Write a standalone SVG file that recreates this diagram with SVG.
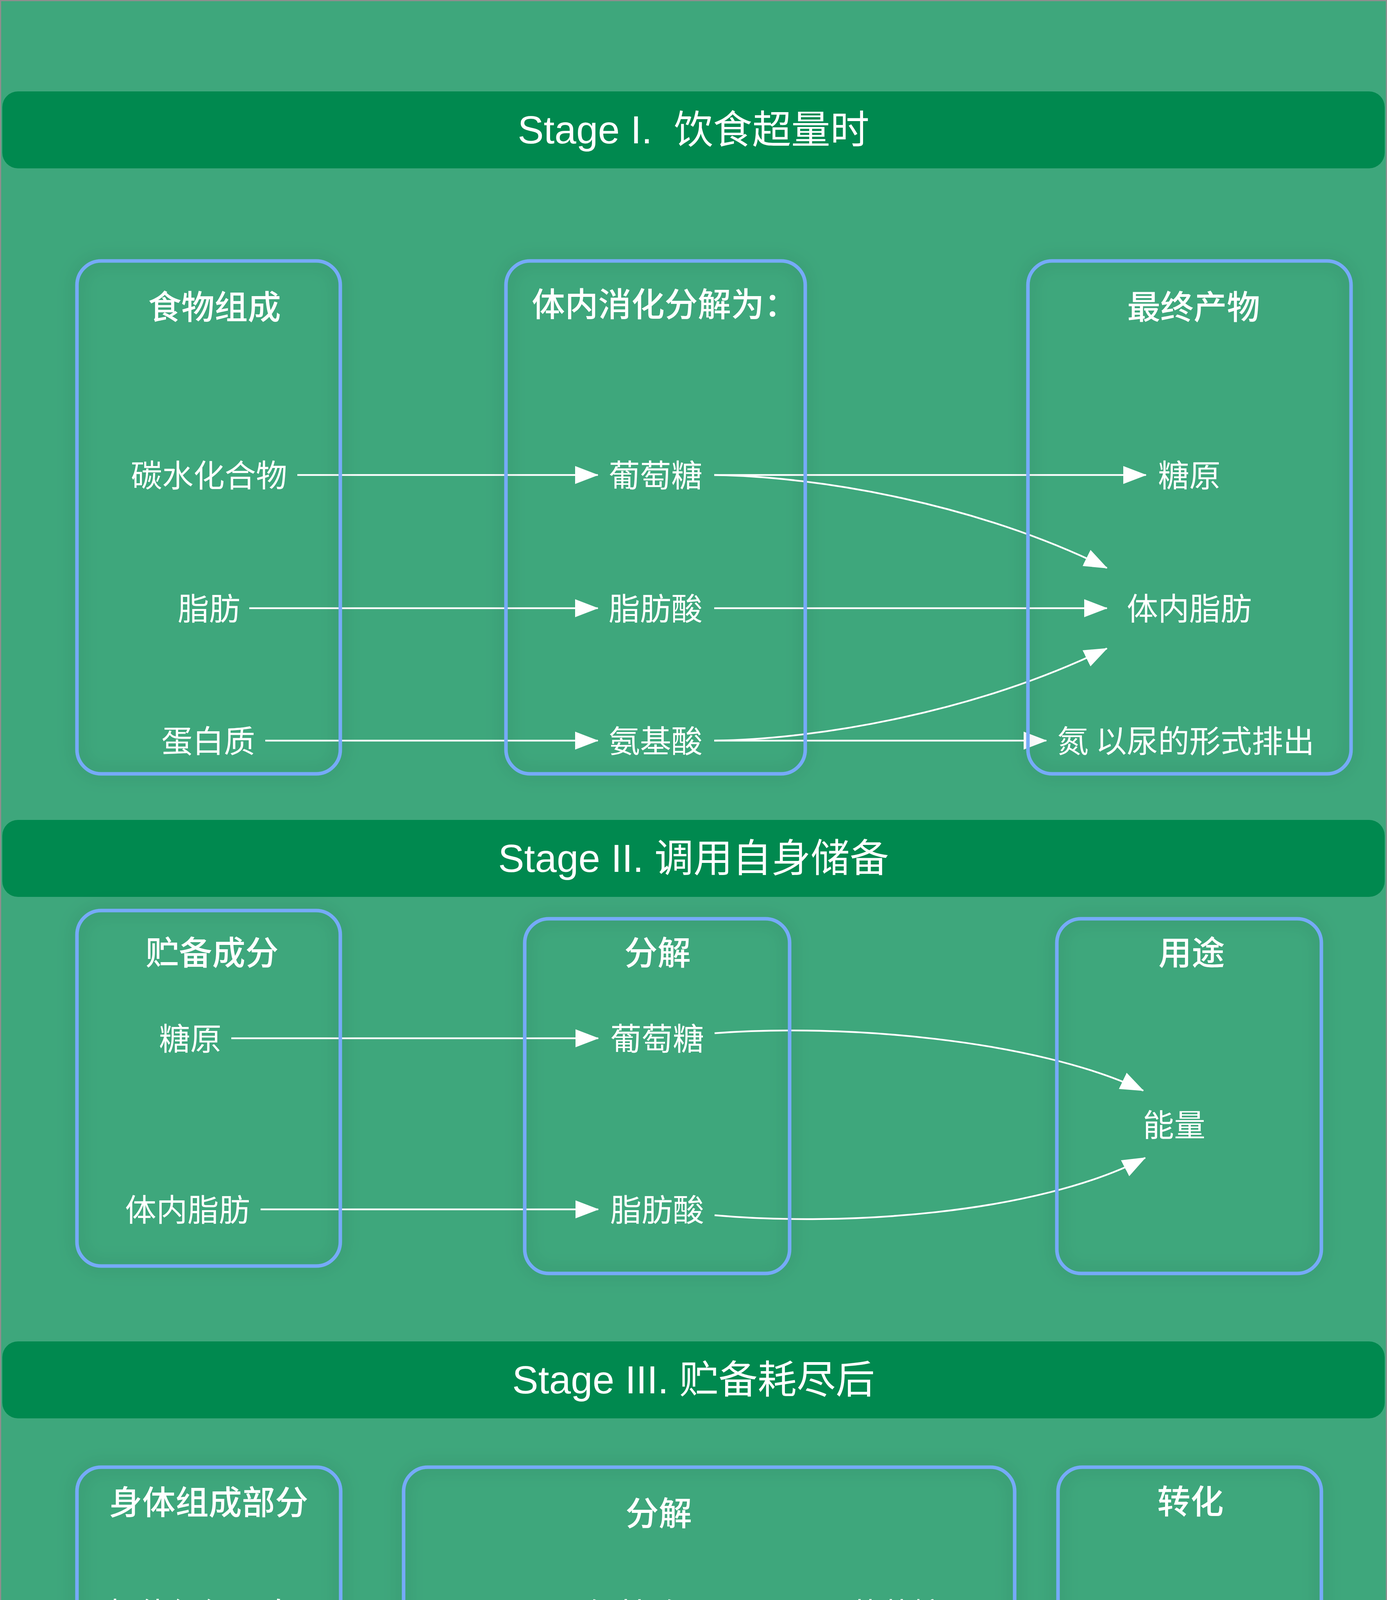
<svg xmlns="http://www.w3.org/2000/svg" width="3550" height="5156" viewBox="0 0 3550 5156">
<style>
.banner{fill:#00894f}
.btext{font-family:"Liberation Sans","Noto Sans CJK SC",sans-serif;font-size:100px;fill:#ffffff;text-anchor:middle;white-space:pre}
.box{fill:none;stroke:#76aaf8;stroke-width:9}
.title{font-family:"Noto Sans CJK SC","Noto Sans",sans-serif;font-size:85px;font-weight:500;fill:#ffffff;text-anchor:middle}
.lbl{font-family:"Noto Sans CJK SC","Noto Sans",sans-serif;font-size:80px;fill:#ffffff}
.end{text-anchor:end}
.conn path{fill:none;stroke:#ffffff;stroke-width:4.5;marker-end:url(#arr)}
</style>
<defs>
<marker id="arr" markerUnits="userSpaceOnUse" markerWidth="60" markerHeight="46" refX="58" refY="23" orient="auto">
<path d="M0,0 L60,23 L0,46 Z" fill="#ffffff"/>
</marker>
<filter id="glow" x="-20%" y="-20%" width="140%" height="140%">
<feGaussianBlur in="SourceAlpha" stdDeviation="22" result="b"/>
<feFlood flood-color="#000000" flood-opacity="0.22"/>
<feComposite in2="b" operator="in" result="s"/>
<feMerge><feMergeNode in="s"/><feMergeNode in="SourceGraphic"/></feMerge>
</filter>
</defs>
<rect x="1.5" y="1.5" width="3547" height="5153" fill="#3ea77c" stroke="#8e8e8e" stroke-width="3"/>

<g id="banner1"><rect class="banner" x="6" y="234" width="3538" height="197" rx="40"/><text class="btext" x="1775" y="367">Stage I.  饮食超量时</text></g>
<g id="banner2"><rect class="banner" x="6" y="2099" width="3538" height="197" rx="40"/><text class="btext" x="1775" y="2232">Stage II. 调用自身储备</text></g>
<g id="banner3"><rect class="banner" x="6" y="3434" width="3538" height="197" rx="40"/><text class="btext" x="1775" y="3567">Stage III. 贮备耗尽后</text></g>

<g id="connectors" class="conn">
<path d="M761,1216 H1530"/>
<path d="M1828,1216 H2933"/>
<path d="M1828,1216 C2100,1220 2500,1290 2833,1454"/>
<path d="M638,1557 H1530"/>
<path d="M1828,1557 H2833"/>
<path d="M679,1896 H1530"/>
<path d="M1828,1896 H2678"/>
<path d="M1828,1896 C2100,1892 2500,1822 2833,1660"/>

<path d="M592,2658 H1531"/>
<path d="M1829,2645 C2150,2620 2650,2660 2926,2792"/>
<path d="M667,3096 H1531"/>
<path d="M1829,3111 C2150,3140 2650,3110 2931,2964"/>

<path d="M786,4131 H1469"/>
<path d="M1765,4131 H2145"/>
<path d="M1765,4131 C1950,4125 2100,4150 2188,4265"/>
<path d="M2442,4122 C2700,4120 2900,4160 3016,4290"/>
<path d="M1679,4214 Q1881,4436 2185,4609"/>
<path d="M697,4646 H1469"/>
<path d="M1765,4646 H2187"/>
<path d="M2402,4647 C2700,4640 2930,4580 3027,4464"/>
<path d="M1633,4730 C1690,4800 1850,4808 2200,4818 C2600,4810 3020,4700 3054,4464"/>
</g>

<g id="s1-food"><rect class="box" filter="url(#glow)" x="197" y="668" width="674" height="1313" rx="62"/><text class="title" x="549" y="817">食物组成</text></g>
<g id="s1-digest"><rect class="box" filter="url(#glow)" x="1295" y="668" width="766" height="1313" rx="62"/><text class="title" x="1361" y="810" style="text-anchor:start">体内消化分解为：</text></g>
<g id="s1-product"><rect class="box" filter="url(#glow)" x="2631" y="668" width="827" height="1313" rx="62"/><text class="title" x="3055" y="817">最终产物</text></g>

<g id="n-carb"><text class="lbl end" x="735" y="1246">碳水化合物</text></g>
<g id="n-fat1"><text class="lbl end" x="615" y="1587">脂肪</text></g>
<g id="n-protein"><text class="lbl end" x="653" y="1926">蛋白质</text></g>
<g id="n-glucose1"><text class="lbl" x="1558" y="1246">葡萄糖</text></g>
<g id="n-fa1"><text class="lbl" x="1558" y="1587">脂肪酸</text></g>
<g id="n-aa1"><text class="lbl" x="1558" y="1926">氨基酸</text></g>
<g id="n-glycogen1"><text class="lbl" x="2964" y="1246">糖原</text></g>
<g id="n-bodyfat1"><text class="lbl" x="2884" y="1587">体内脂肪</text></g>
<g id="n-n1"><text class="lbl" x="2706" y="1926">氮 以尿的形式排出</text></g>

<g id="s2-store"><rect class="box" filter="url(#glow)" x="197" y="2331" width="674" height="910" rx="62"/><text class="title" x="543" y="2470">贮备成分</text></g>
<g id="s2-split"><rect class="box" filter="url(#glow)" x="1343" y="2352" width="678" height="908" rx="62"/><text class="title" x="1683" y="2470">分解</text></g>
<g id="s2-use"><rect class="box" filter="url(#glow)" x="2705" y="2352" width="677" height="908" rx="62"/><text class="title" x="3050" y="2470">用途</text></g>

<g id="n-glycogen2"><text class="lbl end" x="567" y="2688">糖原</text></g>
<g id="n-bodyfat2"><text class="lbl end" x="640" y="3126">体内脂肪</text></g>
<g id="n-glucose2"><text class="lbl" x="1562" y="2688">葡萄糖</text></g>
<g id="n-fa2"><text class="lbl" x="1562" y="3126">脂肪酸</text></g>
<g id="n-energy2"><text class="lbl" x="2925" y="2909">能量</text></g>

<g id="s3-body"><rect class="box" filter="url(#glow)" x="197" y="3756" width="675" height="1104" rx="62"/><text class="title" x="534" y="3877">身体组成部分</text></g>
<g id="s3-split"><rect class="box" filter="url(#glow)" x="1033" y="3756" width="1564" height="1104" rx="62"/><text class="title" x="1686" y="3905">分解</text></g>
<g id="s3-convert"><rect class="box" filter="url(#glow)" x="2708" y="3756" width="674" height="1104" rx="62"/><text class="title" x="3047" y="3875">转化</text></g>

<g id="n-tissue"><text class="lbl end" x="754" y="4160">机体组织蛋白</text></g>
<g id="n-bodyfat3"><text class="lbl end" x="670" y="4676">体内脂肪</text></g>
<g id="n-aa3"><text class="lbl" x="1499" y="4161">氨基酸</text></g>
<g id="n-fa3"><text class="lbl" x="1499" y="4676">脂肪酸</text></g>
<g id="n-glucose3"><text class="lbl" x="2174" y="4161">葡萄糖</text></g>
<g id="n-nk"><text class="lbl" x="1892" y="4378">氮及酮体 以尿排出</text></g>
<g id="n-ketone"><text class="lbl" x="2214" y="4676">酮体</text></g>
<g id="n-energy3"><text class="lbl" x="3015" y="4404" style="text-anchor:middle">能量</text></g>
</svg>
